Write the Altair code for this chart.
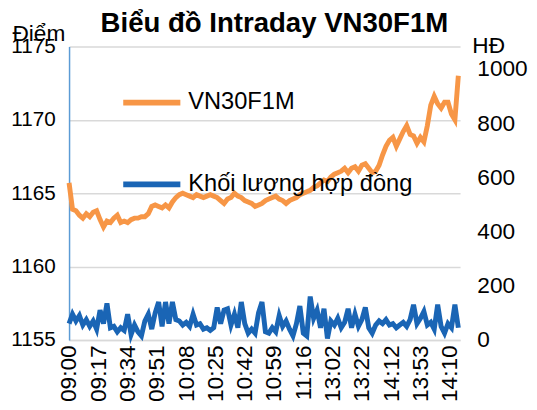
import altair as alt
import pandas as pd

tick_labels = ["09:00", "09:17", "09:34", "09:51", "10:08", "10:25", "10:42",
               "10:59", "11:16", "13:02", "13:22", "14:12", "13:53", "14:10"]
tick_step = 17

price = [
    1165.7, 1163.9, 1163.8, 1163.5, 1163.3, 1163.6, 1163.4, 1163.7, 1163.8, 1163.2,
    1162.7, 1163.1, 1163.0, 1163.3, 1163.5, 1163.0, 1163.1, 1163.0, 1163.2, 1163.3,
    1163.3, 1163.4, 1163.4, 1163.6, 1164.1, 1164.2, 1164.1, 1164.0, 1164.2, 1164.0,
    1164.4, 1164.7, 1164.9, 1165.0, 1164.9, 1164.8, 1164.7, 1164.9, 1164.8, 1164.7,
    1164.8, 1164.9, 1164.8, 1164.7, 1164.5, 1164.3, 1164.6, 1164.7, 1165.0, 1164.8,
    1164.7, 1164.5, 1164.4, 1164.3, 1164.1, 1164.2, 1164.3, 1164.5, 1164.6, 1164.7,
    1164.8, 1164.6, 1164.5, 1164.3, 1164.5, 1164.6, 1164.7, 1164.9, 1165.0, 1165.1,
    1165.2, 1165.4, 1165.5, 1165.7, 1165.9, 1165.8, 1166.1, 1166.3, 1166.4, 1166.5,
    1166.7, 1166.4, 1166.7, 1166.8, 1166.5, 1166.9, 1167.0, 1166.7, 1166.4, 1166.5,
    1166.9, 1167.6, 1168.2, 1168.6, 1168.8, 1168.2, 1168.7, 1169.2, 1169.6, 1169.0,
    1168.9, 1168.4, 1168.8, 1168.5, 1169.6, 1171.0, 1171.6, 1171.1, 1170.8, 1171.2,
    1171.2, 1170.4, 1170.0, 1173.0,
]

volume = [
    60, 95, 70, 90, 55, 75, 50, 70, 40, 110,
    60, 135, 45, 50, 30, 45, 35, 95, 20, 55,
    30, 15, 70, 95, 40, 100, 140, 50, 140, 60,
    140, 75, 70, 55, 65, 50, 95, 55, 60, 40,
    45, 35, 45, 120, 60, 110, 115, 55, 95, 45,
    140, 60, 25, 40, 25, 100, 140, 30, 25, 45,
    30, 90, 50, 70, 40, 15, 60, 125, 25, 15,
    160, 80, 110, 45, 115, 5, 70, 55, 80, 45,
    65, 115, 45, 95, 50, 75, 120, 45, 25, 55,
    70, 60, 75, 55, 60, 45, 55, 65, 50, 75,
    130, 60, 80, 105, 55, 65, 40, 130, 50, 25,
    60, 45, 130, 45,
]

series_names = ["VN30F1M", "Khối lượng hợp đồng"]
series_colors = ["#F79646", "#1A65B5"]

df_p = pd.DataFrame({"idx": [2 * i for i in range(len(price))], "value": price,
                     "series": series_names[0]})
df_v = pd.DataFrame({"idx": [2 * i for i in range(len(volume))], "value": volume,
                     "series": series_names[1]})

FONT = "Liberation Sans"
FS = 23

tick_pos = [tick_step * i for i in range(len(tick_labels))]
label_expr = "[" + ",".join("'%s'" % t for t in tick_labels) + "][round(datum.value/%d)]" % tick_step

x_enc = alt.X(
    "idx:Q",
    scale=alt.Scale(domain=[0, 227], nice=False, zero=False),
    axis=alt.Axis(values=tick_pos, labelExpr=label_expr, labelAngle=270,
                  labelAlign="right", labelBaseline="middle", labelPadding=5,
                  labelFlush=False, labelOverlap=False, labelBound=False,
                  ticks=False, grid=False, domainColor="#d9d9d9", domainWidth=1.5,
                  title=None, labelFontSize=FS, labelFont=FONT, labelColor="black"),
)

color_enc = alt.Color(
    "series:N",
    scale=alt.Scale(domain=series_names, range=series_colors),
    legend=alt.Legend(orient="none", legendX=52, legendY=25, title=None,
                      symbolType="stroke", symbolSize=3364, symbolStrokeWidth=6,
                      labelFontSize=24, labelFont=FONT, labelColor="black",
                      labelLimit=0, rowPadding=39, labelOffset=5, padding=0),
)

price_line = alt.Chart(df_p).mark_line(strokeWidth=5).encode(
    x=x_enc,
    y=alt.Y("value:Q", scale=alt.Scale(domain=[1155, 1175], nice=False, zero=False),
            axis=alt.Axis(values=[1155, 1160, 1165, 1170, 1175], format="d", grid=True,
                          gridColor="#d9d9d9", gridWidth=1.5, domain=True,
                          domainColor="#5B9BD5", domainWidth=1.5, ticks=False,
                          labelPadding=14, labelFontSize=21, labelFont=FONT,
                          labelColor="black", title="Điểm", titleAngle=0,
                          titleX=-58, titleY=-6, titleAlign="left",
                          titleBaseline="alphabetic", titleFontWeight="normal",
                          titleFontSize=FS, titleFont=FONT, titleColor="black")),
    color=color_enc,
)

volume_line = alt.Chart(df_v).mark_line(strokeWidth=5).encode(
    x=x_enc,
    y=alt.Y("value:Q", scale=alt.Scale(domain=[0, 1083], nice=False),
            axis=alt.Axis(orient="right", values=[0, 200, 400, 600, 800, 1000],
                          format="d", grid=False, domain=False, ticks=False,
                          labelPadding=17, labelAlign="left", labelFontSize=FS,
                          labelFont=FONT, labelColor="black", title="HĐ",
                          titleAngle=0, titleX=12, titleY=6, titleAlign="left",
                          titleBaseline="alphabetic", titleFontWeight="normal",
                          titleFontSize=FS, titleFont=FONT, titleColor="black")),
    color=color_enc,
)

chart = alt.layer(price_line, volume_line).resolve_scale(y="independent").properties(
    width=397, height=298,
    padding={"left": 62, "top": 36, "right": 70, "bottom": 62},
    autosize=alt.AutoSizeParams(type="none"),
    background="white",
    title=alt.TitleParams("Biểu đồ Intraday VN30F1M", font=FONT, fontSize=28,
                          fontWeight="bold", color="black", anchor="middle",
                          offset=6, dx=10, dy=21),
).configure_view(stroke=None)

chart.save("out.html", embed_options={"renderer": "svg", "actions": False})
